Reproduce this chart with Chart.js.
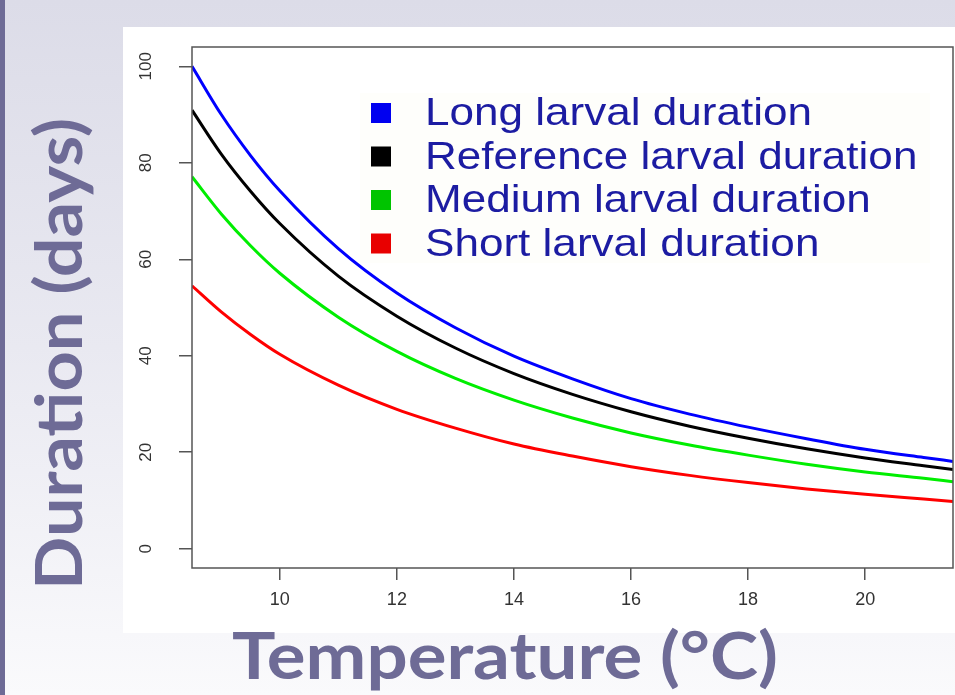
<!DOCTYPE html>
<html>
<head>
<meta charset="utf-8">
<title>Larval duration</title>
<script src="https://cdn.jsdelivr.net/npm/chart.js@4.4.1/dist/chart.umd.min.js"></script>
<style>
    html, body { margin: 0; padding: 0; background: #e6e6ef; }
    #wrap { width: 955px; height: 695px; position: relative; }
</style>
</head>
<body>
<div id="wrap"><canvas id="grafico" width="955" height="695"></canvas></div>
<script>
// valores
const temperaturas = [8.5, 9, 9.5, 10, 11, 12, 13, 14, 15, 16, 17, 18, 19, 20, 21, 21.5];
const longa      = [100, 90.0, 81.5, 74.2, 62.2, 53.0, 45.8, 39.9, 35.2, 31.1, 27.9, 25.2, 22.8, 20.6, 18.9, 18.1];
const referencia = [90.9, 81.8, 74.1, 67.4, 56.5, 48.2, 41.6, 36.3, 32.0, 28.4, 25.4, 22.9, 20.7, 18.8, 17.2, 16.4];
const media      = [77.1, 69.4, 62.8, 57.1, 48.0, 40.9, 35.3, 30.8, 27.1, 24.0, 21.5, 19.4, 17.5, 15.9, 14.6, 13.9];
const curta      = [54.5, 49.1, 44.4, 40.3, 33.9, 28.9, 25.0, 21.7, 19.2, 17.0, 15.2, 13.7, 12.4, 11.3, 10.3, 9.8];

const rotulos = ['Long larval duration', 'Reference larval duration', 'Medium larval duration', 'Short larval duration'];
const cores = ['#0000ff', '#000000', '#00ee00', '#ff0000'];
const coresLegenda = ['#0000f0', '#000000', '#00c400', '#e80000'];
const ticksX = [10, 12, 14, 16, 18, 20];
const ticksY = [0, 20, 40, 60, 80, 100];

const TITULO_COR = '#6e6b96';

function pontos(valores) {
    return temperaturas.map((t, i) => ({ x: t, y: valores[i] }));
}

// fundo do slide e painel branco
const fundo = {
    id: 'fundo',
    beforeDraw(chart) {
        const ctx = chart.ctx;
        ctx.save();
        const g = ctx.createLinearGradient(0, 0, 0, 695);
        g.addColorStop(0, '#dcdce8');
        g.addColorStop(0.5, '#e9e9f1');
        g.addColorStop(1, '#fafafc');
        ctx.fillStyle = g;
        ctx.fillRect(0, 0, 955, 695);
        ctx.fillStyle = '#ffffff';
        ctx.fillRect(123, 27, 832, 606);
        ctx.fillStyle = TITULO_COR;
        ctx.fillRect(0, 0, 5, 695);
        // caixa quase invisivel da legenda
        ctx.fillStyle = '#fefefb';
        ctx.fillRect(360, 93, 570, 170);
        ctx.restore();
    }
};

function textoAjustado(ctx, texto, largura, fonte) {
    ctx.font = fonte;
    const w = ctx.measureText(texto).width;
    return largura / w;
}

const extras = {
    id: 'extras',
    afterDatasetsDraw(chart) {
        const ctx = chart.ctx;
        const area = chart.chartArea;
        const escY = chart.scales.y;
        ctx.save();

        // moldura
        ctx.strokeStyle = '#555555';
        ctx.lineWidth = 1.5;
        ctx.strokeRect(area.left, area.top, area.right - area.left, area.bottom - area.top);

        // rotulos do eixo y (girados)
        ctx.fillStyle = '#333333';
        ctx.font = '17px "Liberation Sans", Arial, sans-serif';
        ctx.textAlign = 'center';
        ctx.textBaseline = 'middle';
        for (let v of ticksY) {
            const py = escY.getPixelForValue(v);
            ctx.save();
            ctx.translate(146, py);
            ctx.rotate(-Math.PI / 2);
            ctx.fillText(String(v), 0, 0);
            ctx.restore();
        }

        // legenda
        ctx.textAlign = 'left';
        ctx.textBaseline = 'alphabetic';
        ctx.font = '39px "Liberation Sans", Arial, sans-serif';
        chart.data.datasets.forEach((ds, i) => {
            const topo = 103 + i * 43.5;
            ctx.fillStyle = coresLegenda[i];
            ctx.fillRect(371, topo, 20, 20);
            ctx.save();
            ctx.translate(425, topo + 22);
            ctx.scale(1.13, 1);
            ctx.fillStyle = '#1c1ca2';
            ctx.fillText(ds.label, 0, 0);
            ctx.restore();
        });

        // titulos dos eixos
        const fonteTitulo = 'bold 65px Lato, "DejaVu Sans", sans-serif';
        ctx.fillStyle = TITULO_COR;
        ctx.textAlign = 'left';

        let tx = 'Temperature (°C)';
        let s = textoAjustado(ctx, tx, 546, fonteTitulo);
        ctx.save();
        ctx.translate(232, 679);
        ctx.scale(s, 1);
        ctx.fillText(tx, 0, 0);
        ctx.restore();

        let ty = 'Duration (days)';
        s = textoAjustado(ctx, ty, 472, fonteTitulo);
        ctx.save();
        ctx.translate(82, 590);
        ctx.rotate(-Math.PI / 2);
        ctx.scale(s, 1);
        ctx.fillText(ty, 0, 0);
        ctx.restore();

        ctx.restore();
    }
};

const ctx = document.getElementById('grafico').getContext('2d');
const grafico = new Chart(ctx, {
    type: 'line',
    data: {
        datasets: [
            { label: rotulos[0], data: pontos(longa), borderColor: cores[0] },
            { label: rotulos[1], data: pontos(referencia), borderColor: cores[1] },
            { label: rotulos[2], data: pontos(media), borderColor: cores[2] },
            { label: rotulos[3], data: pontos(curta), borderColor: cores[3] }
        ]
    },
    options: {
        responsive: false,
        animation: false,
        devicePixelRatio: 1,
        layout: { padding: { top: 47, right: 2, left: 0, bottom: 0 } },
        elements: {
            line: { borderWidth: 3, cubicInterpolationMode: 'monotone', fill: false },
            point: { radius: 0 }
        },
        plugins: {
            legend: { display: false },
            tooltip: { enabled: false }
        },
        scales: {
            x: {
                type: 'linear',
                min: 8.5,
                max: 21.5,
                afterBuildTicks: (scale) => { scale.ticks = ticksX.map(v => ({ value: v })); },
                afterFit: (scale) => { scale.height = 127; },
                border: { display: false },
                grid: { drawOnChartArea: false, drawTicks: true, tickLength: 12, tickColor: '#555555', lineWidth: 1.5 },
                ticks: {
                    color: '#333333',
                    font: { family: '"Liberation Sans", Arial, sans-serif', size: 18 },
                    padding: 9,
                    maxRotation: 0
                }
            },
            y: {
                type: 'linear',
                min: -4,
                max: 104,
                afterBuildTicks: (scale) => { scale.ticks = ticksY.map(v => ({ value: v })); },
                afterFit: (scale) => { scale.width = 192; },
                border: { display: false },
                grid: { drawOnChartArea: false, drawTicks: true, tickLength: 13, tickColor: '#555555', lineWidth: 1.5 },
                ticks: { display: false }
            }
        }
    },
    plugins: [fundo, extras]
});
</script>
</body>
</html>
